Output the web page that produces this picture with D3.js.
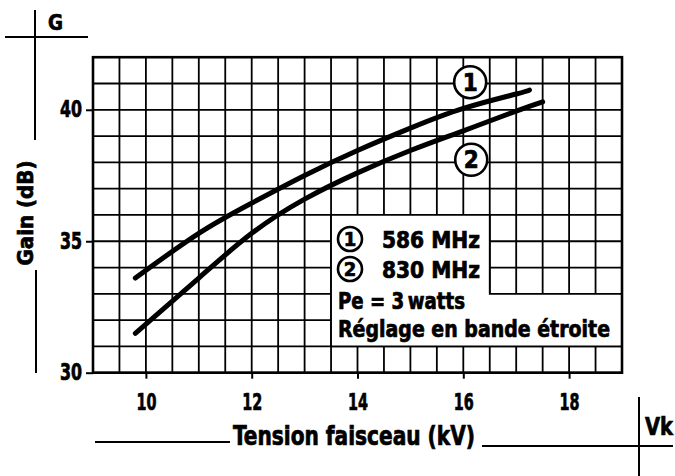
<!DOCTYPE html>
<html>
<head>
<meta charset="utf-8">
<script src="https://cdn.jsdelivr.net/npm/d3@7"></script>
<style>
  body { margin: 0; background: #fff; }
  text { font-family: "Liberation Sans Narrow", "DejaVu Sans Condensed", "Liberation Sans", sans-serif; font-weight: bold; fill: #000; stroke: #000; stroke-width: 0.7px; }
</style>
</head>
<body>
<svg id="chart"></svg>
<script>
// beam voltage (kV) / gain (dB)
const kv586 = [9.8, 11, 12, 13, 14, 15, 16, 17, 17.25];
const gain586 = [33.6, 35.3, 36.45, 37.5, 38.45, 39.3, 40.05, 40.6, 40.75];
const kv830 = [9.8, 11, 12, 13, 14, 15, 16, 17, 17.5];
const gain830 = [31.5, 33.6, 35.3, 36.6, 37.6, 38.45, 39.2, 39.95, 40.3];
const xTicks = [10, 12, 14, 16, 18];
const yTicks = [30, 35, 40];
const legendLines = ["586 MHz", "830 MHz"];
const noteLines = ["Pe = 3\u2009watts", "Réglage en bande étroite"];

const width = 675, height = 476;
const svg = d3.select("#chart").attr("width", width).attr("height", height);

const x = d3.scaleLinear().domain([9, 19]).range([93, 622]);
const y = d3.scaleLinear().domain([30, 42]).range([372.7, 57.2]);

// squeeze a text node to a given width (condensed look)
function fit(sel, w) {
  sel.attr("textLength", w).attr("lengthAdjust", "spacingAndGlyphs");
  return sel;
}

// grid
const grid = svg.append("g").attr("stroke", "#000").attr("stroke-width", 1.8);
grid.selectAll(".v").data(d3.range(9, 19.01, 0.5)).join("line")
  .attr("x1", d => x(d)).attr("x2", d => x(d))
  .attr("y1", y(42)).attr("y2", y(30));
grid.selectAll(".h").data(d3.range(30, 42.01, 1)).join("line")
  .attr("x1", x(9)).attr("x2", x(19))
  .attr("y1", d => y(d)).attr("y2", d => y(d));

// legend box (L shape cut out of the grid)
const box = [[13.5, 36], [16.5, 36], [16.5, 33], [19, 33], [19, 31], [13.5, 31]];
svg.append("path")
  .attr("d", d3.line().x(d => x(d[0])).y(d => y(d[1]))(box) + "Z")
  .attr("fill", "#fff").attr("stroke", "#000").attr("stroke-width", 1.8);

// frame
svg.append("rect")
  .attr("x", x(9)).attr("y", y(42))
  .attr("width", x(19) - x(9)).attr("height", y(30) - y(42))
  .attr("fill", "none").attr("stroke", "#000").attr("stroke-width", 2.6);

// axes
const yAxis = svg.append("g")
  .attr("transform", `translate(${x(9)},0)`)
  .call(d3.axisLeft(y).tickValues(yTicks).tickSize(7).tickPadding(5));
const xAxis = svg.append("g")
  .attr("transform", `translate(0,${y(30)})`)
  .call(d3.axisBottom(x).tickValues(xTicks).tickSize(6).tickPadding(0));
[yAxis, xAxis].forEach(a => {
  a.select(".domain").remove();
  a.selectAll("line").attr("stroke", "#000").attr("stroke-width", 2);
  a.selectAll("text").attr("font-size", 23).attr("font-family", null).attr("fill", "#000");
});
yAxis.selectAll("text").attr("dy", "0.3em").attr("x", -11).call(fit, 22);
xAxis.selectAll("text").attr("dy", null).attr("y", 37).call(fit, 20);

// curves
const line = d3.line().x(d => x(d[0])).y(d => y(d[1])).curve(d3.curveNatural);
[[kv586, gain586], [kv830, gain830]].forEach(([k, g]) => {
  svg.append("path")
    .datum(d3.zip(k, g))
    .attr("d", line)
    .attr("fill", "none").attr("stroke", "#000")
    .attr("stroke-width", 5).attr("stroke-linecap", "round");
});

// numbered circles
function badge(cx, cy, r, n, fs) {
  svg.append("circle").attr("cx", cx).attr("cy", cy).attr("r", r)
    .attr("fill", "#fff").attr("stroke", "#000").attr("stroke-width", 2.6);
  svg.append("text").attr("x", cx).attr("y", cy + fs * 0.36)
    .attr("text-anchor", "middle").attr("font-size", fs).text(n);
}
badge(x(16.13), y(41.05), 16, "1", 24);
badge(x(16.15), y(38.1), 16, "2", 24);

// legend
legendLines.forEach((t, i) => {
  badge(350, 239 + i * 30, 12, String(i + 1), 20);
  svg.append("text").attr("x", 382).attr("y", 248 + i * 30)
    .attr("font-size", 23).text(t).call(fit, 98);
});
svg.append("text").attr("x", 338).attr("y", 309)
  .attr("font-size", 23).text(noteLines[0]).call(fit, 127);
svg.append("text").attr("x", 338).attr("y", 337)
  .attr("font-size", 23).text(noteLines[1]).call(fit, 272);

// axis titles and decorations
const deco = svg.append("g").attr("stroke", "#000").attr("stroke-width", 2);
deco.append("line").attr("x1", 35).attr("x2", 35).attr("y1", 10).attr("y2", 140);
deco.append("line").attr("x1", 5).attr("x2", 88).attr("y1", 37).attr("y2", 37);
deco.append("line").attr("x1", 36).attr("x2", 36).attr("y1", 270).attr("y2", 373);
deco.append("line").attr("x1", 95).attr("x2", 230).attr("y1", 442).attr("y2", 442);
deco.append("line").attr("x1", 482).attr("x2", 673).attr("y1", 446).attr("y2", 446);
deco.append("line").attr("x1", 639).attr("x2", 639).attr("y1", 397).attr("y2", 476);

svg.append("text").attr("x", 48).attr("y", 30).attr("font-size", 21).text("G").call(fit, 15);
svg.append("text").attr("transform", "translate(33,213) rotate(-90)")
  .attr("text-anchor", "middle").attr("font-size", 21).text("Gain (dB)").call(fit, 105);
svg.append("text").attr("x", 233).attr("y", 445).attr("font-size", 26)
  .text("Tension faisceau (kV)").call(fit, 242);
svg.append("text").attr("x", 645).attr("y", 435).attr("font-size", 24).text("Vk").call(fit, 28);
</script>
</body>
</html>
